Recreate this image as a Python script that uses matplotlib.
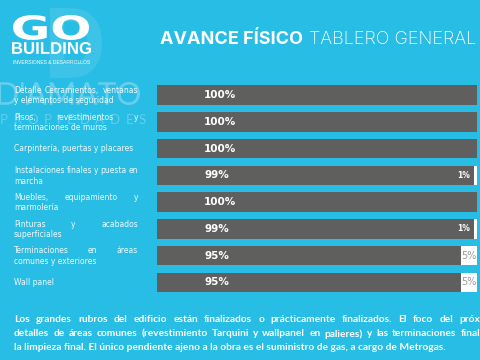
import matplotlib
matplotlib.use('Agg')
import matplotlib.pyplot as plt
from matplotlib.transforms import blended_transform_factory, Affine2D, IdentityTransform
from matplotlib.textpath import TextPath
from matplotlib.patches import PathPatch
from matplotlib.font_manager import FontProperties

# ---------------- data ----------------
categories = [
    ["Detalle Cerramientos, ventanas", "y elementos de seguridad"],
    ["Pisos, revestimientos y", "terminaciones de muros"],
    ["Carpintería, puertas y placares"],
    ["Instalaciones finales y puesta en", "marcha"],
    ["Muebles, equipamiento y", "marmolería"],
    ["Pinturas y acabados", "superficiales"],
    ["Terminaciones en áreas", "comunes y exteriores"],
    ["Wall panel"],
]
done = [100, 100, 100, 99, 100, 99, 95, 95]
pending = [0, 0, 0, 1, 0, 1, 5, 5]
title_bold = "AVANCE FÍSICO"
title_regular = "TABLERO GENERAL"
paragraph = [
    "Los grandes rubros del edificio están finalizados o prácticamente finalizados. El foco del próximo",
    "detalles de áreas comunes (revestimiento Tarquini y wallpanel en palieres) y las terminaciones finales",
    "la limpieza final. El único pendiente ajeno a la obra es el suministro de gas, a cargo de Metrogas.",
]
logo_main = "GO"
logo_name = "BUILDING"
logo_sub = "INVERSIONES & DESARROLLOS"
watermark = "D'AMATO"
watermark_sub = "P R O P I E D A D E S"

# ---------------- style ----------------
BG = "#27bde4"
GREY = "#5f5f5f"
WM = "#78d4ef"
W, H = 480, 360
FONT = "DejaVu Sans"

fig = plt.figure(figsize=(4.8, 3.6), dpi=100, facecolor=BG)
renderer = fig.canvas.get_renderer()


def fx(px):
    return px / W


def fy(py):
    return 1 - py / H


def path_text(s, x0, x1, ytop, ybot, color, alpha=1.0, family="DejaVu Sans", weight="bold"):
    """Draw text s stretched into pixel box (x0..x1, ytop..ybot) (top-left origin)."""
    tp = TextPath((0, 0), s, size=100, prop=FontProperties(family=family, weight=weight))
    ext = tp.get_extents()
    sx = (x1 - x0) / ext.width
    sy = (ybot - ytop) / ext.height
    tr = (Affine2D().translate(-ext.x0, -ext.y0).scale(sx, sy)
          .translate(x0, H - ybot))
    patch = PathPatch(tr.transform_path(tp), facecolor=color, edgecolor="none",
                      alpha=alpha, transform=IdentityTransform())
    fig.patches.append(patch)


def justify(words, x0, x1, y, trans, **kw):
    texts = [fig.text(0, 0, w, transform=trans, ha="left", va="center", **kw) for w in words]
    widths = [t.get_window_extent(renderer).width for t in texts]
    gap = (x1 - x0 - sum(widths)) / max(len(words) - 1, 1)
    x = x0
    for t, wd in zip(texts, widths):
        t.set_position((fx(x), y))
        x += wd + gap


# watermark
path_text("D", 50, 102, 8, 78, WM, alpha=0.28)
path_text(watermark, -2, 140, 82, 105, WM, alpha=0.8, family="Lato", weight="normal")
justify(watermark_sub.split(), 0, 146, fy(120), fig.transFigure,
        fontsize=9.5, color=WM, alpha=0.75, family="Lato")

# logo
path_text(logo_main, 13, 89, 15, 40, "white")
path_text(logo_name, 12, 91, 42, 54, "white", family="Liberation Sans")
fig.text(fx(52), fy(62), logo_sub, fontsize=3.6, color="white",
         ha="center", va="center", family="Liberation Sans")

# title
tb = fig.text(fx(160), fy(39), title_bold, fontsize=13, color="white", ha="left",
              va="center", family="Inter", fontweight="bold")
bb = tb.get_window_extent(renderer)
fig.text(fx(bb.x1 + 6), fy(39), title_regular, fontsize=13, color="white",
         ha="left", va="center", family="Inter", fontweight="light")

# bars
ax = fig.add_axes([fx(157), fy(295.8), fx(320), 214.2 / H])
ax.set_facecolor("none")
ypos = list(range(len(categories)))
ax.barh(ypos, done, height=0.73, color=GREY)
ax.barh(ypos, pending, left=done, height=0.73, color="white")
ax.set_xlim(0, 100)
ax.set_ylim(len(categories) - 0.5, -0.5)
ax.axis("off")

for i, (d, p) in enumerate(zip(done, pending)):
    ax.text(14.7, i, f"{d}%", color="white", fontsize=7.5, fontweight="bold",
            family="DejaVu Sans", ha="left", va="center")
    if p == 1:
        ax.text(d - 1.2, i, f"{p}%", color="white", fontsize=5.5, fontweight="bold",
                family="DejaVu Sans", ha="right", va="center")
    elif p > 1:
        ax.text(d + p / 2, i, f"{p}%", color="#9a9a9a", fontsize=7,
                family="DejaVu Sans", ha="center", va="center")


# category labels
ltrans = blended_transform_factory(fig.transFigure, ax.transData)
line_h = 10.5 / 26.78
lab_kw = dict(fontsize=5.5, color="white", alpha=0.92, family=FONT)
for i, lines in enumerate(categories):
    if len(lines) == 1:
        fig.text(fx(14), i, lines[0], transform=ltrans, ha="left", va="center", **lab_kw)
    else:
        y1 = i - line_h / 2 + 0.02
        y2 = i + line_h / 2 + 0.02
        justify(lines[0].split(), 14, 138, y1, ltrans, **lab_kw)
        fig.text(fx(14), y2, lines[1], transform=ltrans, ha="left", va="center", **lab_kw)

# paragraph
pkw = dict(fontsize=7.3, color="white", family="Lato", fontweight="bold")
justify(paragraph[0].split(), 14, 497, fy(320), fig.transFigure, **pkw)
justify(paragraph[1].split(), 14, 490, fy(334), fig.transFigure, **pkw)
fig.text(fx(14), fy(347), paragraph[2], ha="left", va="center", **pkw)

fig.savefig("out.png", dpi=100, facecolor=BG)
